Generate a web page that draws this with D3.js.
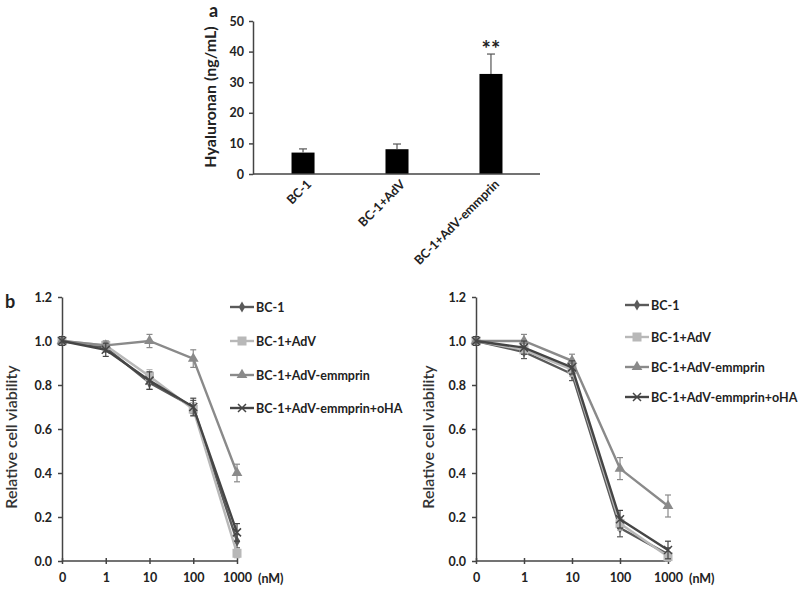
<!DOCTYPE html>
<html><head><meta charset="utf-8">
<script src="https://cdn.jsdelivr.net/npm/d3@7"></script>
<style>
body{margin:0;background:#fff;}
text{font-family:Lato,"Open Sans",sans-serif;}
</style></head>
<body><svg id="c" width="800" height="591"></svg>
<script>
// ---- Panel a data ----
const barCategories = ["BC-1", "BC-1+AdV", "BC-1+AdV-emmprin"];
const barValues = [7.0, 8.1, 32.7];
const barErrors = [1.2, 1.7, 6.5];
const barTicks = [0, 10, 20, 30, 40, 50];

// ---- Panel b data ----
const doseLabels = ["0", "1", "10", "100", "1000"];
const seriesNames = ["BC-1", "BC-1+AdV", "BC-1+AdV-emmprin", "BC-1+AdV-emmprin+oHA"];
const leftBC1 = [1.00, 0.97, 0.81, 0.70, 0.09];
const leftAdV = [1.00, 0.98, 0.84, 0.69, 0.035];
const leftEmm = [1.00, 0.98, 1.00, 0.92, 0.40];
const leftOHA = [1.00, 0.96, 0.82, 0.70, 0.13];
const leftBC1Err = [0.02, 0.02, 0.03, 0.03, 0.03];
const leftAdVErr = [0.02, 0.02, 0.03, 0.03, 0.02];
const leftEmmErr = [0.02, 0.02, 0.03, 0.04, 0.04];
const leftOHAErr = [0.02, 0.03, 0.04, 0.04, 0.04];
const rightBC1 = [1.00, 0.95, 0.85, 0.15, 0.03];
const rightAdV = [1.00, 0.96, 0.87, 0.17, 0.02];
const rightEmm = [1.00, 1.00, 0.91, 0.42, 0.25];
const rightOHA = [1.00, 0.97, 0.88, 0.19, 0.05];
const rightBC1Err = [0.02, 0.03, 0.03, 0.04, 0.03];
const rightAdVErr = [0.02, 0.02, 0.03, 0.03, 0.02];
const rightEmmErr = [0.02, 0.03, 0.03, 0.05, 0.05];
const rightOHAErr = [0.02, 0.03, 0.03, 0.04, 0.04];
const viabilityTicks = [0, 0.2, 0.4, 0.6, 0.8, 1.0, 1.2];

const svg = d3.select("#c");
const axisColor = "#444";
const txtColor = "#222";
const FONT = "Lato,'Open Sans',sans-serif";

// ================= Panel a =================
{
  const x = d3.scaleBand().domain(barCategories).range([256, 538]).paddingInner(0.755).paddingOuter(0.378);
  const y = d3.scaleLinear().domain([0, 50]).range([174, 21]);
  const g = svg.append("g");
  g.selectAll("rect.bar").data(barCategories).enter().append("rect")
    .attr("x", d => x(d)).attr("width", x.bandwidth())
    .attr("y", (d, i) => y(barValues[i])).attr("height", (d, i) => y(0) - y(barValues[i]))
    .attr("fill", "#000");
  barCategories.forEach((d, i) => {
    const cx = x(d) + x.bandwidth() / 2;
    g.append("line").attr("x1", cx).attr("x2", cx).attr("y1", y(barValues[i])).attr("y2", y(barValues[i] + barErrors[i]))
      .attr("stroke", "#555").attr("stroke-width", 1.2);
    g.append("line").attr("x1", cx - 4).attr("x2", cx + 4).attr("y1", y(barValues[i] + barErrors[i])).attr("y2", y(barValues[i] + barErrors[i]))
      .attr("stroke", "#555").attr("stroke-width", 1.2);
  });
  const ya = g.append("g").attr("transform", "translate(253,0)")
    .call(d3.axisLeft(y).tickValues(barTicks).tickSize(4).tickSizeOuter(0).tickPadding(5));
  ya.select(".domain").attr("stroke", axisColor).attr("stroke-width", 1.5);
  ya.selectAll(".tick line").attr("stroke", axisColor).attr("stroke-width", 1.5);
  ya.selectAll(".tick text").attr("font-size", 12.5).attr("font-weight", "bold").attr("fill", txtColor)
    .style("font-family", FONT);
  g.append("line").attr("x1", 253).attr("x2", 540).attr("y1", y(0)).attr("y2", y(0))
    .attr("stroke", axisColor).attr("stroke-width", 1.5);
  g.selectAll("text.xl").data(barCategories).enter().append("text")
    .attr("transform", d => `translate(${x(d) + x.bandwidth() / 2 + 9},${y(0) + 11}) rotate(-45)`)
    .attr("text-anchor", "end").attr("font-size", 12.5).attr("font-weight", "bold").attr("fill", txtColor)
    .text(d => d);
  g.append("text").attr("transform", "translate(216,97) rotate(-90)").attr("text-anchor", "middle")
    .attr("font-size", 16).attr("font-weight", "bold").attr("fill", txtColor).text("Hyaluronan (ng/mL)");
  g.append("text").attr("x", 209).attr("y", 17).attr("font-size", 18).attr("font-weight", "bold").attr("fill", txtColor).text("a");
  g.append("text").attr("x", x(barCategories[2]) + x.bandwidth() / 2).attr("y", y(barValues[2] + barErrors[2]) + 3)
    .attr("text-anchor", "middle").attr("font-size", 22).attr("font-weight", "bold").attr("fill", txtColor).text("**");
}

// ================= Panel b =================
const styles = [
  {color: "#5a5a5a", marker: "diamond"},
  {color: "#b8b8b8", marker: "square"},
  {color: "#8a8a8a", marker: "triangle"},
  {color: "#454545", marker: "x"}
];

function drawMarker(g, type, cx, cy, color) {
  if (type === "diamond") {
    g.append("path").attr("d", d3.symbol(d3.symbolDiamond, 36)()).attr("transform", `translate(${cx},${cy})`).attr("fill", color);
  } else if (type === "square") {
    g.append("rect").attr("x", cx - 4.5).attr("y", cy - 4.5).attr("width", 9).attr("height", 9).attr("fill", color);
  } else if (type === "triangle") {
    g.append("path").attr("d", d3.symbol(d3.symbolTriangle, 50)()).attr("transform", `translate(${cx},${cy})`).attr("fill", color);
  } else {
    g.append("path").attr("d", `M${cx - 4},${cy - 4}L${cx + 4},${cy + 4}M${cx - 4},${cy + 4}L${cx + 4},${cy - 4}`)
      .attr("stroke", color).attr("stroke-width", 1.5).attr("fill", "none");
  }
}

function drawViability(x0, x1, series, errs, legendX, legendYs, ylabelX, letter) {
  const x = d3.scalePoint().domain(doseLabels).range([x0, x1]);
  const y = d3.scaleLinear().domain([0, 1.2]).range([561, 297]);
  const g = svg.append("g");
  const ya = g.append("g").attr("transform", `translate(${x0},0)`)
    .call(d3.axisLeft(y).tickValues(viabilityTicks).tickFormat(d3.format(".1f")).tickSize(4).tickSizeOuter(0).tickPadding(6));
  ya.select(".domain").attr("stroke", axisColor).attr("stroke-width", 1.5);
  ya.selectAll(".tick line").attr("stroke", axisColor).attr("stroke-width", 1.5);
  ya.selectAll(".tick text").attr("font-size", 12.5).attr("font-weight", "bold").attr("fill", txtColor)
    .style("font-family", FONT);
  const xa = g.append("g").attr("transform", `translate(0,${y(0)})`)
    .call(d3.axisBottom(x).tickSize(4).tickSizeOuter(0).tickPadding(8));
  xa.select(".domain").attr("stroke", axisColor).attr("stroke-width", 1.5).attr("d", `M${x0},0H${x1}`);
  xa.selectAll(".tick line").attr("stroke", axisColor).attr("stroke-width", 1.5).attr("y1", -3).attr("y2", 3);
  xa.selectAll(".tick text").attr("font-size", 12.5).attr("font-weight", "bold").attr("fill", txtColor)
    .style("font-family", FONT);
  g.append("text").attr("x", x1 + 21).attr("y", y(0) + 22).attr("font-size", 12.5).attr("font-weight", "bold")
    .attr("fill", txtColor).text("(nM)");
  g.append("text").attr("transform", `translate(${ylabelX},437) rotate(-90)`).attr("text-anchor", "middle")
    .attr("font-size", 16).attr("font-weight", 600).attr("fill", "#333").text("Relative cell viability");
  if (letter) g.append("text").attr("x", 5).attr("y", 308).attr("font-size", 18).attr("font-weight", "bold").attr("fill", txtColor).text(letter);
  const line = d3.line().x((d, i) => x(doseLabels[i])).y(d => y(d));
  series.forEach((vals, s) => {
    const st = styles[s];
    const sg = g.append("g");
    vals.forEach((v, i) => {
      const cx = x(doseLabels[i]);
      const e = errs[s][i];
      sg.append("line").attr("x1", cx).attr("x2", cx).attr("y1", y(v - e)).attr("y2", y(v + e)).attr("stroke", st.color).attr("stroke-width", 1.2);
      [v - e, v + e].forEach(t => sg.append("line").attr("x1", cx - 3).attr("x2", cx + 3).attr("y1", y(t)).attr("y2", y(t)).attr("stroke", st.color).attr("stroke-width", 1.2));
    });
    sg.append("path").datum(vals).attr("d", line).attr("fill", "none").attr("stroke", st.color).attr("stroke-width", 2.4);
    vals.forEach((v, i) => drawMarker(sg, st.marker, x(doseLabels[i]), y(v), st.color));
  });
  seriesNames.forEach((name, s) => {
    const st = styles[s];
    const ly = legendYs[s];
    g.append("line").attr("x1", legendX).attr("x2", legendX + 24).attr("y1", ly).attr("y2", ly).attr("stroke", st.color).attr("stroke-width", 2.4);
    drawMarker(g, st.marker, legendX + 12, ly, st.color);
    g.append("text").attr("x", legendX + 26).attr("y", ly + 4.5).attr("font-size", 12.5).attr("font-weight", "bold")
      .attr("fill", txtColor).text(name);
  });
}

drawViability(62, 237, [leftBC1, leftAdV, leftEmm, leftOHA], [leftBC1Err, leftAdVErr, leftEmmErr, leftOHAErr],
  230, [307, 341, 375, 408], 17, "b");
drawViability(476, 668, [rightBC1, rightAdV, rightEmm, rightOHA], [rightBC1Err, rightAdVErr, rightEmmErr, rightOHAErr],
  625, [305, 337, 367, 397], 434, null);
</script></body></html>
